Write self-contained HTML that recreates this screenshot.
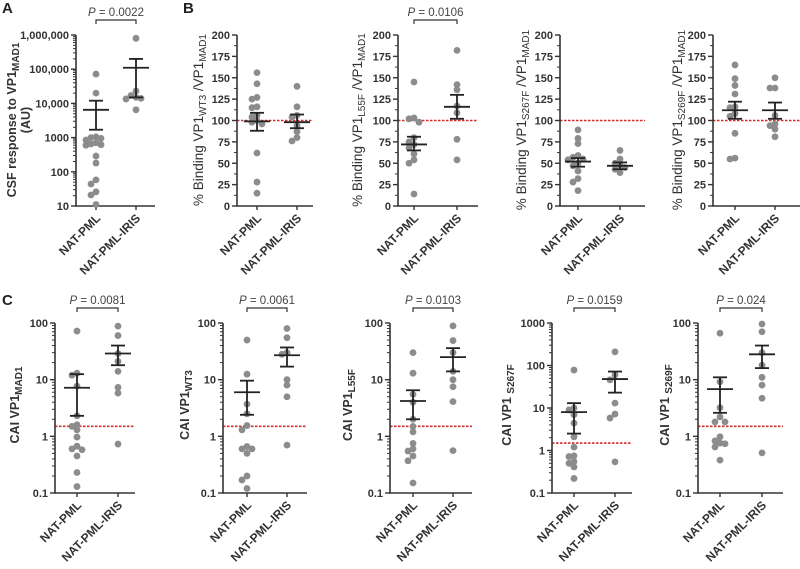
<!DOCTYPE html>
<html><head><meta charset="utf-8"><style>
html,body{margin:0;padding:0;background:#fff;width:800px;height:569px;overflow:hidden}
svg{display:block;font-family:"Liberation Sans",Arial,sans-serif}
</style></head><body>
<svg id="fig" width="800" height="569" viewBox="0 0 800 569" xmlns="http://www.w3.org/2000/svg">
<text x="2" y="13" font-size="15" font-weight="bold" fill="#222">A</text>
<text x="183" y="13" font-size="15" font-weight="bold" fill="#222">B</text>
<text x="2" y="305" font-size="15" font-weight="bold" fill="#222">C</text>
</svg>
<script>
// ---- data ----
const categories = ["NAT-PML", "NAT-PML-IRIS"];
const aPml = [72000,20000,1050,1000,950,850,700,650,620,600,290,180,58,44,26,21,11];
const aIris = [800000,23000,17000,15000,14000,13500,6500];
const aMean = [6500,110000]; const aLo = [1700,15000]; const aHi = [12000,200000];
const b1Pml = [156,143,127,125,116,115,106,104,100,98,96,62,28,15];
const b1Iris = [140,116,106,104,94,87,80,76];
const b1Mean = [99,98]; const b1Lo = [88,91]; const b1Hi = [109,107];
const b2Pml = [145,103,102,98,80,75,72,68,61,54,50,14];
const b2Iris = [182,142,136,117,109,78,54];
const b2Mean = [72,116]; const b2Lo = [65,102]; const b2Hi = [81,130];
const b3Pml = [89,79,73,59,57,55,54,50,47,41,32,28,18];
const b3Iris = [65,55,50,48,45,43,39];
const b3Mean = [52,47]; const b3Lo = [46,43]; const b3Hi = [56,51];
const b4Pml = [165,149,141,131,116,115,108,105,85,56,55];
const b4Iris = [150,138,138,106,96,94,90,81];
const b4Mean = [112,112]; const b4Lo = [102,102]; const b4Hi = [122,121];
const c1Pml = [72,13,12,7.7,2.3,1.6,1.5,1.3,0.97,0.67,0.6,0.58,0.45,0.23,0.13];
const c1Iris = [88,60,29,21,14,7.3,5.8,0.73];
const c1Mean = [7.2,29]; const c1Lo = [2.3,18]; const c1Hi = [12.5,40];
const c2Pml = [50,12.5,3.7,2.5,1.55,1.3,0.66,0.6,0.6,0.5,0.2,0.17,0.12];
const c2Iris = [80,55,30,28,10,8,5,0.7];
const c2Mean = [6,27]; const c2Lo = [2.4,17]; const c2Hi = [9.6,37];
const c3Pml = [30,13,5.5,4,2,1.5,1.2,0.75,0.6,0.55,0.45,0.37,0.15];
const c3Iris = [89,49,30,14,10,7.5,4.1,0.56];
const c3Mean = [4.2,25]; const c3Lo = [2,14]; const c3Hi = [6.5,36];
const c4Pml = [78,10,9,7,4.4,2.1,1.2,0.75,0.72,0.55,0.5,0.41,0.22];
const c4Iris = [210,60,46,13,7.2,5.8,0.54];
const c4Mean = [8,48]; const c4Lo = [2.5,23]; const c4Hi = [13,72];
const c5Pml = [66,9.2,3.2,2.2,1.8,1.8,0.98,0.83,0.76,0.74,0.65,0.38];
const c5Iris = [96,70,30,18,11,8,4.7,0.51];
const c5Mean = [6.8,28]; const c5Lo = [2.6,16]; const c5Hi = [11,40];
const linTicks = [0,25,50,75,100,125,150,175,200];
const aTickLabels = ["10","100","1000","10,000","100,000","1,000,000"];
const cTickLabels = ["0.1","1","10","100"];
const c4TickLabels = ["0.1","1","10","100","1000"];
const pValues = ["0.0022","0.0106","0.0081","0.0061","0.0103","0.0159","0.024"];

const NS = "http://www.w3.org/2000/svg";
const svg = document.getElementById('fig');
function mk(tag, attrs, parent){const e=document.createElementNS(NS,tag);for(const k in attrs)e.setAttribute(k,attrs[k]);(parent||svg).appendChild(e);return e;}

function panel(p){
  const g = mk('g',{});
  
  
  const yS = p.log
    ? v => p.bottom - (Math.log10(v)-Math.log10(p.min))/(Math.log10(p.max)-Math.log10(p.min))*(p.bottom-p.top)
    : v => p.bottom - (v-p.min)/(p.max-p.min)*(p.bottom-p.top);
  if(p.red!=null){
    const rl = mk('line',{x1:p.ax,x2:p.end,y1:yS(p.red),y2:yS(p.red),stroke:'#d42a2a','stroke-width':1.6,'stroke-dasharray':'2.5,1.5'},g);
    
    
  }
  const ya = mk('line',{x1:p.ax,x2:p.ax,y1:p.top,y2:p.bottom,stroke:'#333','stroke-width':1.6},g);
  
  
  const xa = mk('line',{x1:p.ax-0.8,x2:p.end,y1:p.bottom,y2:p.bottom,stroke:'#333','stroke-width':1.6},g);
  
  
  let majors;
  if(p.log){
    majors=[];
    for(let d=Math.log10(p.min); d<=Math.log10(p.max)+1e-9; d++) majors.push(Math.pow(10,d));
    majors.forEach((m,i)=>{
      if(i<majors.length-1) for(let k=2;k<10;k++){const y=yS(m*k);mk('line',{x1:p.ax-3,x2:p.ax,y1:y,y2:y,stroke:'#333','stroke-width':1},g);}
    });
  } else {
    majors = linTicks;
    for(let i=0;i<linTicks.length-1;i++){const y=yS((linTicks[i]+linTicks[i+1])/2);mk('line',{x1:p.ax-3,x2:p.ax,y1:y,y2:y,stroke:'#333','stroke-width':1},g);}
  }
  majors.forEach((m,i)=>{
    const y=yS(m);
    mk('line',{x1:p.ax-5,x2:p.ax,y1:y,y2:y,stroke:'#333','stroke-width':1.4},g);
    const t=mk('text',{x:p.ax-7,y:y+4,'text-anchor':'end','font-size':11,'font-weight':'bold',fill:'#333'},g);
    t.textContent = p.labels ? p.labels[i] : String(m);
    
    
  });
  p.gx.forEach((x,i)=>{
    mk('line',{x1:x,x2:x,y1:p.bottom,y2:p.bottom+4,stroke:'#333','stroke-width':1.4},g);
    const t=mk('text',{x:x+5,y:p.bottom+13,'text-anchor':'end','font-size':12,'font-weight':'bold',fill:'#333',transform:`rotate(-45 ${x+5} ${p.bottom+13})`},g);
    t.textContent = categories[i];
    
    
  });
  [p.d0,p.d1].forEach((arr,gi)=>{
    const placed=[];
    arr.map(v=>yS(v)).sort((a,b)=>a-b).forEach(y=>{
      const offs=[0,-5,5,-10,10,-15,15];
      let ox=0;
      for(const o of offs){ if(placed.every(q=>Math.hypot(q[0]-o,q[1]-y)>=5)){ox=o;break;} }
      placed.push([ox,y]);
      const c=mk('circle',{cx:p.gx[gi]+ox,cy:y,r:3.4,fill:'#8c8c8c'},g);
      
      
    });
  });
  p.gx.forEach((x,i)=>{
    const s={stroke:'#222','stroke-width':1.8};
    const e1=mk('line',Object.assign({x1:x,x2:x,y1:yS(p.lo[i]),y2:yS(p.hi[i])},s),g);
    
    
    mk('line',Object.assign({x1:x-7,x2:x+7,y1:yS(p.lo[i]),y2:yS(p.lo[i])},s),g);
    mk('line',Object.assign({x1:x-7,x2:x+7,y1:yS(p.hi[i]),y2:yS(p.hi[i])},s),g);
    const ml=mk('line',Object.assign({x1:x-13,x2:x+13,y1:yS(p.mean[i]),y2:yS(p.mean[i])},s),g);
    
    
  });
  if(p.p!=null){
    const by=p.top-15;
    mk('path',{d:`M${p.gx[0]} ${by+4}V${by}H${p.gx[1]}V${by+4}`,fill:'none',stroke:'#333','stroke-width':1.2},g);
    const t=mk('text',{x:(p.gx[0]+p.gx[1])/2,y:by-4,'text-anchor':'middle','font-size':11.5,fill:'#444'},g);
    t.innerHTML = '<tspan font-style="italic">P</tspan> = '+p.p;
    
    
  }
  p.title.forEach((tl,i)=>{
    const t=mk('text',{x:tl[0],y:tl[1],'text-anchor':'middle','font-size':p.fs||12.5,fill:'#333','font-weight':p.boldTitle?'bold':'normal',transform:`rotate(-90 ${tl[0]} ${tl[1]})`},g);
    t.innerHTML = tl[2];
    
    
  });
}
const sub = s => `<tspan font-size="10" dy="3">${s}</tspan>`;
const bind = (a,b) => `% Binding VP1<tspan font-size="10" dy="3">${a}</tspan><tspan dy="-3"> /VP1</tspan><tspan font-size="10" dy="3">${b}</tspan>`;

panel({name:'panel-a-csf',ax:76,gx:[96,136],end:155,top:35,bottom:206,log:true,min:10,max:1e6,labels:aTickLabels,
  d0:aPml,d1:aIris,mean:aMean,lo:aLo,hi:aHi,p:pValues[0],boldTitle:true,
  title:[[16,120,'CSF response to VP1'+sub('MAD1')],[30,120,'(AU)']]});
panel({name:'panel-b-wt3',ax:237,gx:[257,297],end:313,top:35,bottom:206,log:false,min:0,max:200,red:100,fs:13.5,
  d0:b1Pml,d1:b1Iris,mean:b1Mean,lo:b1Lo,hi:b1Hi,p:null,title:[[203,120,bind('WT3','MAD1')]]});
panel({name:'panel-b-l55f',ax:398,gx:[414,457],end:478,top:35,bottom:206,log:false,min:0,max:200,red:100,fs:13.5,
  d0:b2Pml,d1:b2Iris,mean:b2Mean,lo:b2Lo,hi:b2Hi,p:pValues[1],title:[[362,120,bind('L55F','MAD1')]]});
panel({name:'panel-b-s267f',ax:560,gx:[578,620],end:645,top:35,bottom:206,log:false,min:0,max:200,red:100,fs:13.5,
  d0:b3Pml,d1:b3Iris,mean:b3Mean,lo:b3Lo,hi:b3Hi,p:null,title:[[526,120,bind('S267F','MAD1')]]});
panel({name:'panel-b-s269f',ax:713,gx:[735,775],end:800,top:35,bottom:206,log:false,min:0,max:200,red:100,fs:13.5,
  d0:b4Pml,d1:b4Iris,mean:b4Mean,lo:b4Lo,hi:b4Hi,p:null,title:[[682,120,bind('S269F','MAD1')]]});

panel({name:'panel-c-mad1',ax:55,gx:[77,118],end:135,top:323,bottom:493,log:true,min:0.1,max:100,labels:cTickLabels,red:1.5,
  d0:c1Pml,d1:c1Iris,mean:c1Mean,lo:c1Lo,hi:c1Hi,p:pValues[2],boldTitle:true,title:[[19,405,'CAI VP1'+sub('MAD1')]]});
panel({name:'panel-c-wt3',ax:223,gx:[247,287],end:307,top:323,bottom:493,log:true,min:0.1,max:100,labels:cTickLabels,red:1.5,
  d0:c2Pml,d1:c2Iris,mean:c2Mean,lo:c2Lo,hi:c2Hi,p:pValues[3],boldTitle:true,title:[[189,405,'CAI VP1'+sub('WT3')]]});
panel({name:'panel-c-l55f',ax:390,gx:[413,453],end:472,top:323,bottom:493,log:true,min:0.1,max:100,labels:cTickLabels,red:1.5,
  d0:c3Pml,d1:c3Iris,mean:c3Mean,lo:c3Lo,hi:c3Hi,p:pValues[4],boldTitle:true,title:[[352,405,'CAI VP1'+sub('L55F')]]});
panel({name:'panel-c-s267f',ax:552,gx:[574,615],end:632,top:323,bottom:493,log:true,min:0.1,max:1000,labels:c4TickLabels,red:1.5,
  d0:c4Pml,d1:c4Iris,mean:c4Mean,lo:c4Lo,hi:c4Hi,p:pValues[5],boldTitle:true,title:[[511,405,'CAI VP1 '+sub('S267F')]]});
panel({name:'panel-c-s269f',ax:698,gx:[720,762],end:783,top:323,bottom:493,log:true,min:0.1,max:100,labels:cTickLabels,red:1.5,
  d0:c5Pml,d1:c5Iris,mean:c5Mean,lo:c5Lo,hi:c5Hi,p:pValues[6],boldTitle:true,title:[[669,405,'CAI VP1 '+sub('S269F')]]});
</script>
</body></html>
